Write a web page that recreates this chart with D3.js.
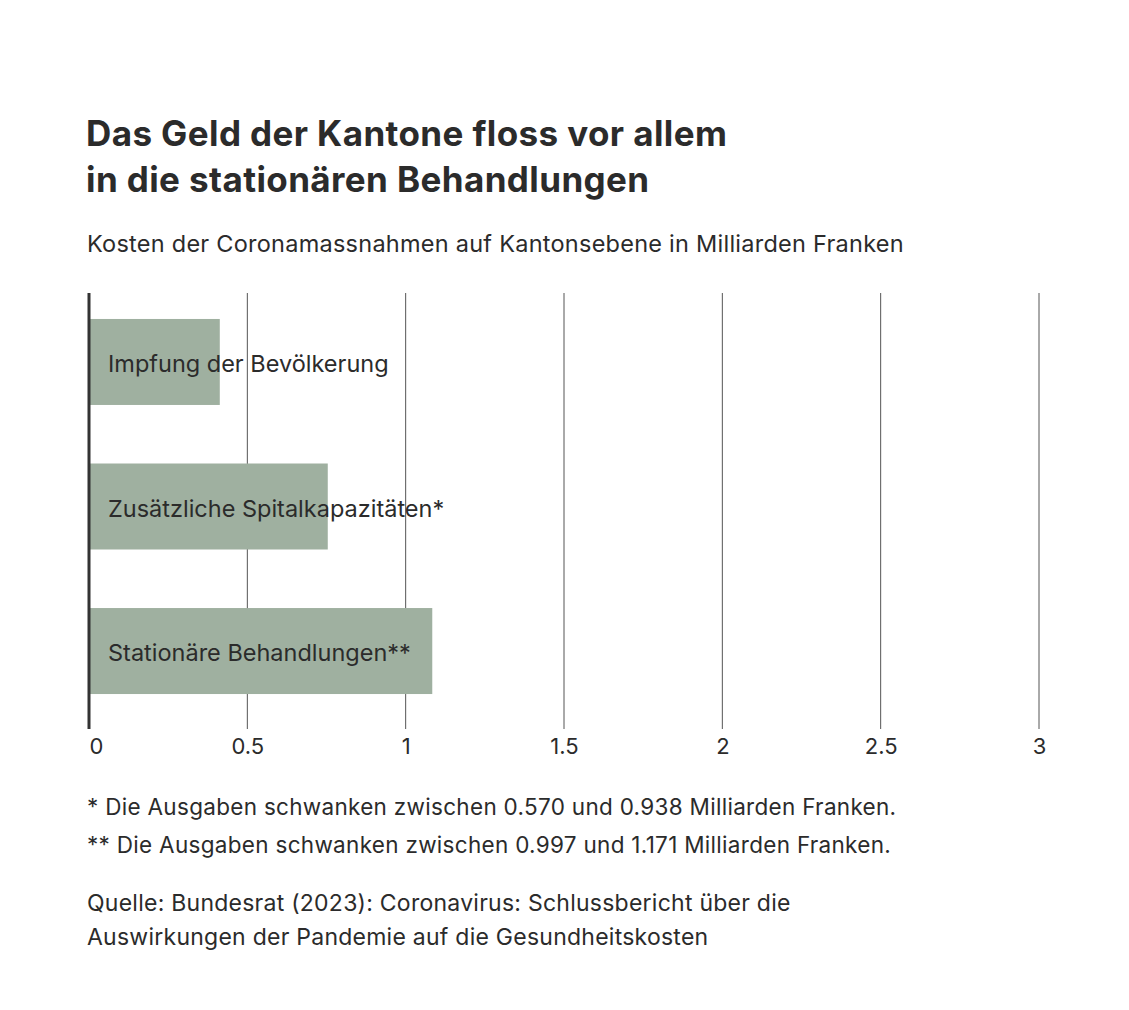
<!DOCTYPE html>
<html>
<head>
<meta charset="utf-8">
<script src="https://cdn.jsdelivr.net/npm/d3@7"></script>
<style>
  body { margin: 0; background: #fff; }
  svg { display: block; }
  text { font-family: Inter, "Noto Sans", sans-serif; fill: #2b2b2b; }
</style>
</head>
<body>
<script>
// constants
const width = 1129;
const height = 1010;

// data
const categories = ["Impfung der Bevölkerung", "Zusätzliche Spitalkapazitäten*", "Stationäre Behandlungen**"];
const values = [0.413, 0.754, 1.084];
const ticks = [0, 0.5, 1, 1.5, 2, 2.5, 3];
const tickLabels = ["0", "0.5", "1", "1.5", "2", "2.5", "3"];
const titleLines = ["Das Geld der Kantone floss vor allem", "in die stationären Behandlungen"];
const subtitle = "Kosten der Coronamassnahmen auf Kantonsebene in Milliarden Franken";
const notes = [
  "* Die Ausgaben schwanken zwischen 0.570 und 0.938 Milliarden Franken.",
  "** Die Ausgaben schwanken zwischen 0.997 und 1.171 Milliarden Franken."
];
const sourceLines = [
  "Quelle: Bundesrat (2023): Coronavirus: Schlussbericht über die",
  "Auswirkungen der Pandemie auf die Gesundheitskosten"
];

const svg = d3.select("body").append("svg")
  .attr("width", width).attr("height", height);

// scales
const x = d3.scaleLinear().domain([0, 3]).range([89, 1039]);
const y = d3.scaleBand().domain(categories).range([297, 716])
  .paddingInner(0.405).paddingOuter(0.152);

const plotTop = 293, plotBottom = 729;

// title
svg.append("g").selectAll("text").data(titleLines).enter().append("text")
  .attr("x", 86).attr("y", (d, i) => 146 + i * 45.5)
  .style("font-size", "35px").style("font-weight", 700)
  .style("letter-spacing", "0.4px")
  .attr("fill", "#2e2e2e")
  .text(d => d);

svg.append("text")
  .attr("x", 87).attr("y", 251.5)
  .style("font-size", "23.5px").style("letter-spacing", "0.25px")
  .text(subtitle);

// grid lines
svg.append("g").selectAll("line").data(ticks.slice(1)).enter().append("line")
  .attr("x1", d => x(d)).attr("x2", d => x(d))
  .attr("y1", plotTop).attr("y2", plotBottom)
  .attr("stroke", "#555").attr("stroke-width", 1);

// bars
svg.append("g").selectAll("rect").data(values).enter().append("rect")
  .attr("x", x(0)).attr("y", (d, i) => y(categories[i]))
  .attr("width", d => x(d) - x(0)).attr("height", y.bandwidth())
  .attr("fill", "#9fb0a0");

// zero line
svg.append("line")
  .attr("x1", x(0)).attr("x2", x(0))
  .attr("y1", plotTop).attr("y2", plotBottom)
  .attr("stroke", "#333").attr("stroke-width", 3);

// bar labels
svg.append("g").selectAll("text").data(categories).enter().append("text")
  .attr("x", 108).attr("y", d => y(d) + y.bandwidth() / 2)
  .attr("dy", "0.43em")
  .style("font-size", "23.5px")
  .text(d => d);

// x axis labels
const xAxis = d3.axisBottom(x).tickValues(ticks)
  .tickFormat((d, i) => tickLabels[i]).tickSize(0).tickPadding(0);
const axisG = svg.append("g").attr("transform", `translate(0, ${plotBottom})`).call(xAxis);
axisG.select(".domain").remove();
axisG.selectAll("text")
  .attr("y", 25).attr("dy", 0)
  .style("font-family", "Inter, sans-serif").style("font-size", "22px")
  .attr("fill", "#2b2b2b")
  .attr("text-anchor", (d, i) => i === 0 ? "start" : "middle");

// footnotes
svg.append("g").selectAll("text").data(notes).enter().append("text")
  .attr("x", 87).attr("y", (d, i) => 815 + i * 38)
  .style("font-size", "22.5px").style("letter-spacing", "0.3px")
  .text(d => d);

svg.append("g").selectAll("text").data(sourceLines).enter().append("text")
  .attr("x", 87).attr("y", (d, i) => 911 + i * 34)
  .style("font-size", "23px").style("letter-spacing", "0.25px")
  .text(d => d);
</script>
</body>
</html>
